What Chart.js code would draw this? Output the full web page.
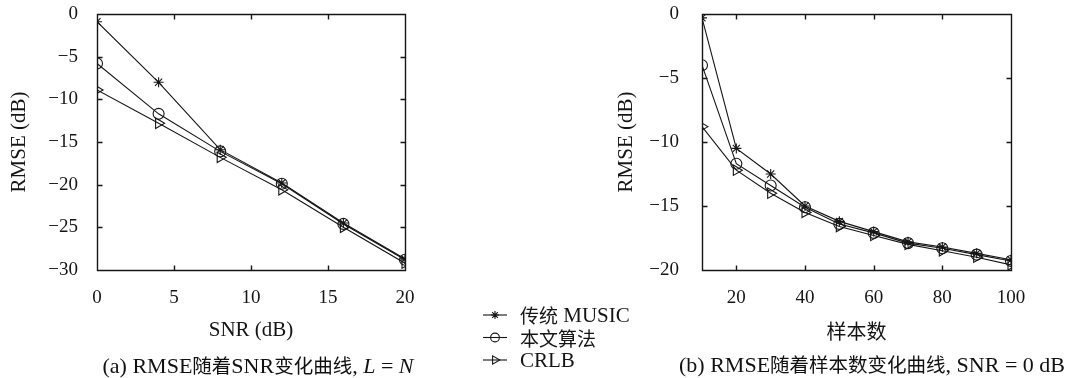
<!DOCTYPE html>
<html>
<head>
<meta charset="utf-8">
<script src="https://cdn.jsdelivr.net/npm/chart.js@4.4.1/dist/chart.umd.min.js"></script>
<style>
  html, body { margin: 0; padding: 0; background: #fff; }
  #wrap { position: relative; width: 1066px; height: 378px; overflow: hidden; }
  #wrap canvas { position: absolute; left: 0; top: 0; }
  .cap { position: absolute; font-family: 'Liberation Serif', serif; font-size: 22px; color: #111;
         white-space: nowrap; transform: translate(-50%, -50%); line-height: 1; }
  .cap .zh { font-family: 'Noto Sans CJK SC', sans-serif; font-size: 19.5px; }
</style>
</head>
<body>
<div id="wrap">
  <canvas id="chartA" width="1066" height="378"></canvas>
  <canvas id="chartB" width="1066" height="378"></canvas>
  <div class="cap" style="left:258px; top:366px;">(a) RMSE<span class="zh">随着</span>SNR<span class="zh">变化曲线</span>, <i>L</i> = <i>N</i></div>
  <div class="cap" style="left:872px; top:365px;">(b) RMSE<span class="zh">随着样本数变化曲线</span>, SNR = 0 dB</div>
</div>
<script>
// Panel (a): RMSE versus SNR
const snrValues = [0, 4, 8, 12, 16, 20];
const musicBySnr = [-0.9, -8.0, -15.9, -19.8, -24.5, -28.7];
const oursBySnr = [-5.8, -11.7, -16.1, -19.9, -24.6, -28.8];
const crlbBySnr = [-8.9, -12.8, -16.8, -20.6, -25.0, -29.2];
const snrTicks = [0, 5, 10, 15, 20];
const rmseTicksA = [0, -5, -10, -15, -20, -25, -30];

// Panel (b): RMSE versus number of snapshots (SNR = 0 dB)
const sampleCounts = [10, 20, 30, 40, 50, 60, 70, 80, 90, 100];
const musicBySamples = [-0.3, -10.5, -12.5, -15.0, -16.2, -17.0, -17.8, -18.2, -18.7, -19.2];
const oursBySamples = [-4.0, -11.7, -13.4, -15.1, -16.4, -17.1, -17.9, -18.3, -18.8, -19.3];
const crlbBySamples = [-8.8, -12.2, -14.0, -15.5, -16.6, -17.3, -18.0, -18.5, -19.0, -19.6];
const sampleTicks = [20, 40, 60, 80, 100];
const rmseTicksB = [0, -5, -10, -15, -20];

const seriesNames = ['传统 MUSIC', '本文算法', 'CRLB'];

const INK = '#151515';
const LATIN = "'Liberation Serif', serif";
const CJK = "'Noto Sans CJK SC', sans-serif";

const markerStyles = [
  { pointStyle: 'star', pointRadius: 5, pointRotation: 0 },
  { pointStyle: 'circle', pointRadius: 5.5, pointRotation: 0 },
  { pointStyle: 'triangle', pointRadius: 6, pointRotation: 90 }
];

function makeDatasets(xs, seriesList) {
  return seriesList.map((ys, i) => ({
    label: seriesNames[i],
    data: xs.map((x, k) => ({ x: x, y: ys[k] })),
    borderColor: INK,
    borderWidth: 1.1,
    backgroundColor: 'rgba(0,0,0,0)',
    pointBackgroundColor: 'rgba(0,0,0,0)',
    pointBorderColor: INK,
    pointBorderWidth: 1.1,
    pointStyle: markerStyles[i].pointStyle,
    pointRadius: markerStyles[i].pointRadius,
    pointRotation: markerStyles[i].pointRotation,
    tension: 0
  }));
}

const minusSign = v => String(v).replace('-', '\u2212');

// Boxed axes with inward tick marks on all four sides
function boxFrame(xTicks, yTicks) {
  return {
    id: 'boxFrame',
    afterDatasetsDraw(chart) {
      const ctx = chart.ctx;
      const a = chart.chartArea;
      const sx = chart.scales.x, sy = chart.scales.y;
      const L = Math.round(a.left) + 0.5, R = Math.round(a.right) + 0.5;
      const T = Math.round(a.top) + 0.5, B = Math.round(a.bottom) + 0.5;
      const len = 5;
      ctx.save();
      ctx.strokeStyle = INK;
      ctx.lineWidth = 1.4;
      ctx.beginPath();
      ctx.moveTo(L, T); ctx.lineTo(R, T); ctx.lineTo(R, B); ctx.lineTo(L, B); ctx.closePath();
      xTicks.forEach(v => {
        const px = Math.round(sx.getPixelForValue(v)) + 0.5;
        ctx.moveTo(px, B); ctx.lineTo(px, B - len);
        ctx.moveTo(px, T); ctx.lineTo(px, T + len);
      });
      yTicks.forEach(v => {
        const py = Math.round(sy.getPixelForValue(v)) + 0.5;
        ctx.moveTo(L, py); ctx.lineTo(L + len, py);
        ctx.moveTo(R, py); ctx.lineTo(R - len, py);
      });
      ctx.stroke();
      ctx.restore();
    }
  };
}

// Draws a label, switching to the CJK face for Chinese characters
function drawMixedText(ctx, text, x, y, latinSize, cjkSize) {
  const runs = text.match(/[\u3400-\u9fff]+|[^\u3400-\u9fff]+/g) || [];
  let cx = x;
  runs.forEach(run => {
    const isCjk = /[\u3400-\u9fff]/.test(run);
    ctx.font = isCjk ? (cjkSize + 'px ' + CJK) : (latinSize + 'px ' + LATIN);
    ctx.fillText(run, cx, y);
    cx += ctx.measureText(run).width;
  });
}

// Shared legend, drawn between the two panels
function sharedLegend(pos) {
  return {
    id: 'sharedLegend',
    afterDraw(chart) {
      const ctx = chart.ctx;
      ctx.save();
      chart.data.datasets.forEach((ds, i) => {
        const y = pos.top + i * pos.rowGap;
        ctx.strokeStyle = INK;
        ctx.lineWidth = 1.1;
        ctx.beginPath();
        ctx.moveTo(pos.left, y);
        ctx.lineTo(pos.left + pos.lineLen, y);
        ctx.stroke();
        ctx.fillStyle = 'rgba(0,0,0,0)';
        Chart.helpers.drawPoint(ctx, {
          pointStyle: ds.pointStyle,
          radius: ds.pointRadius * 0.8,
          rotation: ds.pointRotation,
          borderWidth: 1.1
        }, pos.left + pos.lineLen / 2, y);
        ctx.fillStyle = INK;
        ctx.textBaseline = 'middle';
        ctx.textAlign = 'left';
        drawMixedText(ctx, ds.label, pos.left + pos.lineLen + 13, y + 1, 21, 19);
      });
      ctx.restore();
    }
  };
}

function makeChart(id, cfg) {
  const plugins = [boxFrame(cfg.xTicks, cfg.yTicks)];
  if (cfg.legend) plugins.push(sharedLegend(cfg.legend));
  return new Chart(document.getElementById(id), {
    type: 'line',
    data: { datasets: makeDatasets(cfg.xs, cfg.series) },
    options: {
      responsive: false,
      animation: false,
      devicePixelRatio: 1,
      layout: { padding: cfg.padding },
      plugins: {
        legend: { display: false },
        tooltip: { enabled: false }
      },
      scales: {
        x: {
          type: 'linear',
          min: cfg.xMin, max: cfg.xMax,
          grid: { display: false },
          border: { display: false },
          afterFit: s => { s.height = 108; s.paddingLeft = 0; s.paddingRight = 0; },
          afterBuildTicks: s => { s.ticks = cfg.xTicks.map(v => ({ value: v })); },
          ticks: { color: INK, font: { family: LATIN, size: 19 }, padding: 9, maxRotation: 0, callback: minusSign },
          title: { display: true, text: cfg.xTitle, color: INK, font: { family: cfg.xTitleFont, size: cfg.xTitleSize }, padding: { top: 0, bottom: 35 } }
        },
        y: {
          type: 'linear',
          min: cfg.yMin, max: 0,
          grid: { display: false },
          border: { display: false },
          afterFit: s => { s.width = cfg.yWidth; s.paddingTop = 0; s.paddingBottom = 0; },
          afterBuildTicks: s => { s.ticks = cfg.yTicks.map(v => ({ value: v })); },
          ticks: { color: INK, font: { family: LATIN, size: 19 }, padding: cfg.yTickPad, callback: minusSign },
          title: { display: true, text: 'RMSE (dB)', color: INK, font: { family: LATIN, size: 21 }, padding: { top: cfg.yTitlePad, bottom: 0 } }
        }
      }
    },
    plugins: plugins
  });
}

makeChart('chartA', {
  xs: snrValues,
  series: [musicBySnr, oursBySnr, crlbBySnr],
  xTicks: snrTicks, yTicks: rmseTicksA,
  xMin: 0, xMax: 20, yMin: -30,
  xTitle: 'SNR (dB)', xTitleFont: LATIN, xTitleSize: 21,
  yWidth: 97, yTickPad: 11, yTitlePad: 7,
  padding: { left: 0, top: 14, right: 661, bottom: 0 },
  legend: { left: 483, top: 315, rowGap: 22.5, lineLen: 24 }
});

makeChart('chartB', {
  xs: sampleCounts,
  series: [musicBySamples, oursBySamples, crlbBySamples],
  xTicks: sampleTicks, yTicks: rmseTicksB,
  xMin: 10, xMax: 100, yMin: -20,
  xTitle: '样本数', xTitleFont: CJK, xTitleSize: 20,
  yWidth: 102, yTickPad: 15, yTitlePad: 14,
  padding: { left: 600, top: 14, right: 55, bottom: 0 },
  legend: null
});
</script>
</body>
</html>
